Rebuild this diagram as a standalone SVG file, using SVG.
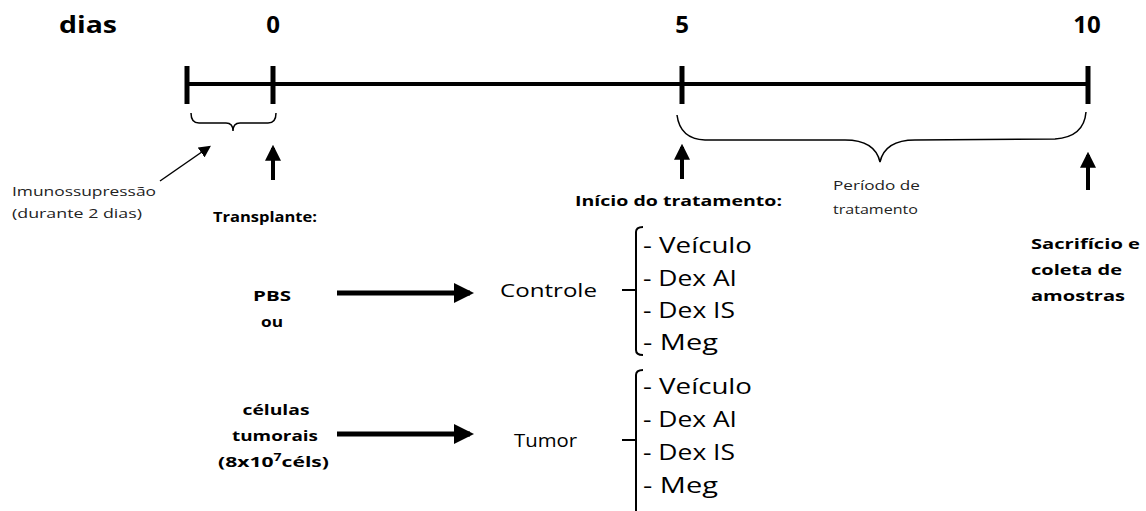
<svg xmlns="http://www.w3.org/2000/svg" width="1146" height="511" viewBox="0 0 1146 511">
<defs>
<style>
text{font-family:"Open Sans","Liberation Sans",sans-serif;fill:#000}
.day{font-size:24px;font-weight:bold;text-anchor:middle}
.lbl{font-size:15px;font-weight:bold}
.sm{font-size:12px;fill:#222}
.item{font-size:22px}
.grp{font-size:18px}
.ln{stroke:#000;fill:none}
</style>
<marker id="ah" viewBox="0 0 10 10" refX="8" refY="5" markerWidth="4" markerHeight="4" orient="auto" markerUnits="strokeWidth"><path d="M0,0 L10,5 L0,10 z" fill="#000"/></marker>
<marker id="ahs" viewBox="0 0 10 10" refX="8" refY="5" markerWidth="8" markerHeight="8" orient="auto" markerUnits="strokeWidth"><path d="M0,0 L10,5 L0,10 z" fill="#000"/></marker>
</defs>
<g id="days">
<text x="88" y="33" class="day" textLength="58" lengthAdjust="spacingAndGlyphs">dias</text>
<text x="273" y="33" class="day">0</text>
<text x="682" y="33" class="day">5</text>
<text x="1087" y="33" class="day">10</text>
</g>
<g id="timeline">
<line x1="187" y1="84" x2="1088" y2="84" class="ln" stroke-width="4"/>
<line x1="187" y1="66" x2="187" y2="104" class="ln" stroke-width="5"/>
<line x1="273" y1="66" x2="273" y2="104" class="ln" stroke-width="5"/>
<line x1="682" y1="66" x2="682" y2="104" class="ln" stroke-width="5"/>
<line x1="1088" y1="66" x2="1088" y2="104" class="ln" stroke-width="5"/>
</g>
<g id="braces">
<path d="M191,113 Q191,123 199,123 L226,123 Q233,123 233,131 Q233,123 240,123 L268,123 Q276,123 276,113" class="ln" stroke-width="1.5"/>
<path d="M677,115 Q680,139 705,140 L845,140 Q875,140 880,162 Q885,140 915,140 L1055,139 Q1084,137 1086,112" class="ln" stroke-width="1.5"/>
</g>
<g id="imunossupressao">
<text x="12" y="196" class="sm" textLength="144" lengthAdjust="spacingAndGlyphs">Imunossupressão</text>
<text x="12" y="218" class="sm" textLength="130" lengthAdjust="spacingAndGlyphs">(durante 2 dias)</text>
</g>
<g id="transplante">
<text x="213" y="222" class="lbl" textLength="104" lengthAdjust="spacingAndGlyphs">Transplante:</text>
</g>
<g id="inicio">
<text x="575" y="206" class="lbl" font-size="16" textLength="207" lengthAdjust="spacingAndGlyphs">Início do tratamento:</text>
</g>
<g id="periodo">
<text x="833" y="190" class="sm" textLength="87" lengthAdjust="spacingAndGlyphs">Período de</text>
<text x="833" y="214" class="sm" textLength="85" lengthAdjust="spacingAndGlyphs">tratamento</text>
</g>
<g id="sacrificio">
<text x="1031" y="249" class="lbl" textLength="109" lengthAdjust="spacingAndGlyphs">Sacrifício e</text>
<text x="1031" y="275" class="lbl" textLength="91" lengthAdjust="spacingAndGlyphs">coleta de</text>
<text x="1031" y="301" class="lbl" textLength="94" lengthAdjust="spacingAndGlyphs">amostras</text>
</g>
<g id="pbs">
<text x="272" y="301" class="lbl" text-anchor="middle" textLength="38" lengthAdjust="spacingAndGlyphs">PBS</text>
<text x="272" y="327" class="lbl" text-anchor="middle" textLength="22" lengthAdjust="spacingAndGlyphs">ou</text>
</g>
<g id="celulas">
<text x="276" y="415" class="lbl" text-anchor="middle" textLength="67" lengthAdjust="spacingAndGlyphs">células</text>
<text x="275" y="441" class="lbl" text-anchor="middle" textLength="86" lengthAdjust="spacingAndGlyphs">tumorais</text>
<text x="218" y="467" class="lbl" textLength="111" lengthAdjust="spacingAndGlyphs">(8x10<tspan font-size="10" dy="-6">7</tspan><tspan dy="6">céls)</tspan></text>
</g>
<g id="controle">
<text x="500" y="297" class="grp" textLength="97" lengthAdjust="spacingAndGlyphs">Controle</text>
</g>
<g id="tumor">
<text x="514" y="447" class="grp" textLength="63" lengthAdjust="spacingAndGlyphs">Tumor</text>
</g>
<g id="lista-controle">
<path d="M643,227 Q636,227 636,232 L636,350 Q636,355 643,355" class="ln" stroke-width="2"/>
<line x1="622" y1="290" x2="636" y2="290" class="ln" stroke-width="2"/>
<text x="643" y="253" class="item" textLength="109" lengthAdjust="spacingAndGlyphs">- Veículo</text>
<text x="643" y="286" class="item" textLength="94" lengthAdjust="spacingAndGlyphs">- Dex AI</text>
<text x="643" y="318" class="item" textLength="92" lengthAdjust="spacingAndGlyphs">- Dex IS</text>
<text x="643" y="350" class="item" textLength="75" lengthAdjust="spacingAndGlyphs">- Meg</text>
</g>
<g id="lista-tumor">
<path d="M643,370 Q636,370 636,375 L636,511" class="ln" stroke-width="2"/>
<line x1="622" y1="440" x2="636" y2="440" class="ln" stroke-width="2"/>
<text x="643" y="394" class="item" textLength="109" lengthAdjust="spacingAndGlyphs">- Veículo</text>
<text x="643" y="427" class="item" textLength="94" lengthAdjust="spacingAndGlyphs">- Dex AI</text>
<text x="643" y="460" class="item" textLength="92" lengthAdjust="spacingAndGlyphs">- Dex IS</text>
<text x="643" y="493" class="item" textLength="75" lengthAdjust="spacingAndGlyphs">- Meg</text>
</g>
<g id="connectors">
<line x1="160" y1="181" x2="209" y2="147" class="ln" stroke-width="1.5" marker-end="url(#ahs)"/>
<line x1="273" y1="180" x2="273" y2="148" class="ln" stroke-width="4" marker-end="url(#ah)"/>
<line x1="682" y1="179" x2="682" y2="147" class="ln" stroke-width="4" marker-end="url(#ah)"/>
<line x1="1088" y1="190" x2="1088" y2="155" class="ln" stroke-width="4" marker-end="url(#ah)"/>
<line x1="337" y1="293" x2="470" y2="293" class="ln" stroke-width="5" marker-end="url(#ah)"/>
<line x1="337" y1="434" x2="470" y2="434" class="ln" stroke-width="5" marker-end="url(#ah)"/>
</g>
</svg>
